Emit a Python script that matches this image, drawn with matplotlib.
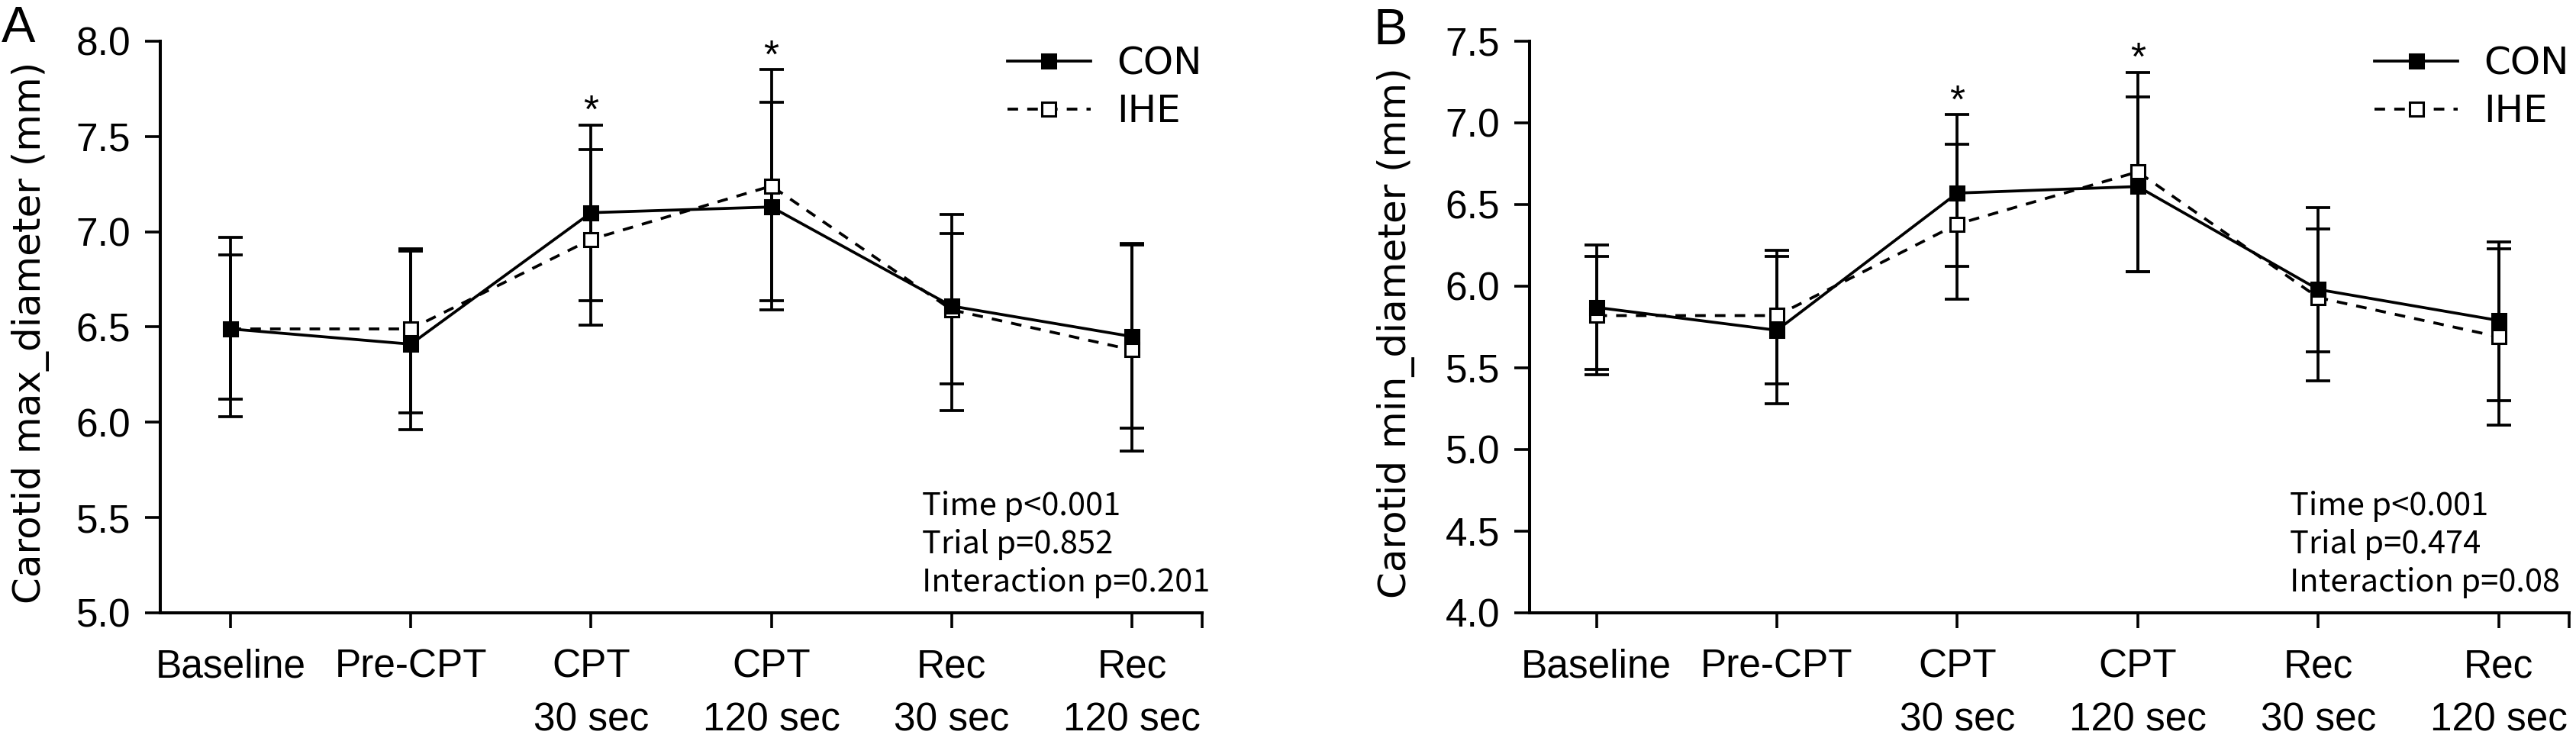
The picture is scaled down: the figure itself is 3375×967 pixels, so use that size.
import matplotlib
matplotlib.use("Agg")
import matplotlib.pyplot as plt
from matplotlib.ticker import FormatStrFormatter

timepoints = ["Baseline", "Pre-CPT", "CPT\n30 sec", "CPT\n120 sec", "Rec\n30 sec", "Rec\n120 sec"]

# A: carotid max diameter (mm), mean with error bar ends
con_max = [6.49, 6.41, 7.10, 7.13, 6.61, 6.45]
con_max_hi = [6.97, 6.90, 7.56, 7.68, 7.09, 6.93]
con_max_lo = [6.03, 5.96, 6.64, 6.59, 6.06, 5.97]
ihe_max = [6.49, 6.49, 6.96, 7.24, 6.59, 6.38]
ihe_max_hi = [6.88, 6.91, 7.43, 7.85, 6.99, 6.94]
ihe_max_lo = [6.12, 6.05, 6.51, 6.64, 6.20, 5.85]

# B: carotid min diameter (mm)
con_min = [5.87, 5.73, 6.57, 6.61, 5.98, 5.79]
con_min_hi = [6.25, 6.18, 7.05, 7.16, 6.48, 6.27]
con_min_lo = [5.49, 5.28, 6.12, 6.09, 5.42, 5.30]
ihe_min = [5.82, 5.82, 6.38, 6.70, 5.93, 5.69]
ihe_min_hi = [6.18, 6.22, 6.87, 7.31, 6.35, 6.23]
ihe_min_lo = [5.46, 5.40, 5.92, 6.09, 5.60, 5.15]

star_idx = [2, 3]  # significant time points (*)

stats_a = "Time p<0.001\nTrial p=0.852\nInteraction p=0.201"
stats_b = "Time p<0.001\nTrial p=0.474\nInteraction p=0.08"

TICK_FONT = "Liberation Sans"
LABEL_FONT = "DejaVu Sans"
LW = 2.7


def panel(ax, con, con_lo, con_hi, ihe, ihe_lo, ihe_hi, ylim, yticks, xlim, ylabel, label_x, stats):
    x = list(range(len(timepoints)))
    for m, lo, hi in [(ihe, ihe_lo, ihe_hi), (con, con_lo, con_hi)]:
        err = [[a - b for a, b in zip(m, lo)], [b - a for a, b in zip(m, hi)]]
        ax.errorbar(x, m, yerr=err, fmt="none", ecolor="black", elinewidth=LW,
                    capsize=11.5, capthick=LW, zorder=1)
    ihe_line, = ax.plot(x, ihe, ls=(0, (3.7, 3.2)), color="black", lw=LW, marker="s",
                        ms=13.5, mfc="white", mec="black", mew=2.2, label="IHE", zorder=3)
    con_line, = ax.plot(x, con, ls="-", color="black", lw=LW, marker="s",
                        ms=13.5, mfc="black", mec="black", mew=2.2, label="CON", zorder=4)

    for i in star_idx:
        top = max(con_hi[i], ihe_hi[i])
        ax.annotate("*", (i, top), xytext=(0, 2), textcoords="offset points",
                    ha="center", va="baseline", fontsize=37, family=TICK_FONT)

    ax.set_ylim(*ylim)
    ax.set_yticks(yticks)
    ax.yaxis.set_major_formatter(FormatStrFormatter("%.1f"))
    ax.set_xlim(*xlim)
    ax.set_xticks(x + [xlim[1]])
    ax.set_xticklabels(timepoints + [""])
    for lab in ax.get_xticklabels():
        lab.set_linespacing(1.55)

    ax.spines["top"].set_visible(False)
    ax.spines["right"].set_visible(False)
    for s in ["left", "bottom"]:
        ax.spines[s].set_linewidth(2.9)
    ax.tick_params(axis="both", width=2.6, length=14.4, labelsize=37)
    ax.tick_params(axis="y", pad=13.5)
    ax.tick_params(axis="x", pad=19)
    for lab in ax.get_xticklabels() + ax.get_yticklabels():
        lab.set_family(TICK_FONT)

    ax.set_ylabel(ylabel, fontsize=36, family=LABEL_FONT)
    ax.yaxis.set_label_coords(label_x, 0.49)

    ax.legend(handles=[con_line, ihe_line], loc="upper left", bbox_to_anchor=(0.813, 0.993),
              frameon=False, borderpad=0, borderaxespad=0, handlelength=2.18,
              handletextpad=0.68, labelspacing=0.3, prop={"family": LABEL_FONT, "size": 36})

    ax.text(0.731, 0.213, stats, transform=ax.transAxes, ha="left", va="top",
            fontsize=30, family="Noto Sans CJK KR", linespacing=1.28, clip_on=False)


fig = plt.figure(figsize=(33.75, 9.67), dpi=100)
ax_a = fig.add_axes([0.0622, 0.1696, 0.4045, 0.7746])
ax_b = fig.add_axes([0.5938, 0.1696, 0.4035, 0.7746])

panel(ax_a, con_max, con_max_lo, con_max_hi, ihe_max, ihe_max_lo, ihe_max_hi,
      (5.0, 8.0), [5.0, 5.5, 6.0, 6.5, 7.0, 7.5, 8.0], (-0.39, 5.39),
      "Carotid max_diameter (mm)", -0.106, stats_a)
panel(ax_b, con_min, con_min_lo, con_min_hi, ihe_min, ihe_min_lo, ihe_min_hi,
      (4.0, 7.5), [4.0, 4.5, 5.0, 5.5, 6.0, 6.5, 7.0, 7.5], (-0.37, 5.39),
      "Carotid min_diameter (mm)", -0.110, stats_b)

fig.text(2 / 3375, 1 - 7 / 967, "A", fontsize=48, family=TICK_FONT, ha="left", va="top")
fig.text(1799 / 3375, 1 - 10 / 967, "B", fontsize=48, family=TICK_FONT, ha="left", va="top")

fig.savefig("out.png", dpi=100)
